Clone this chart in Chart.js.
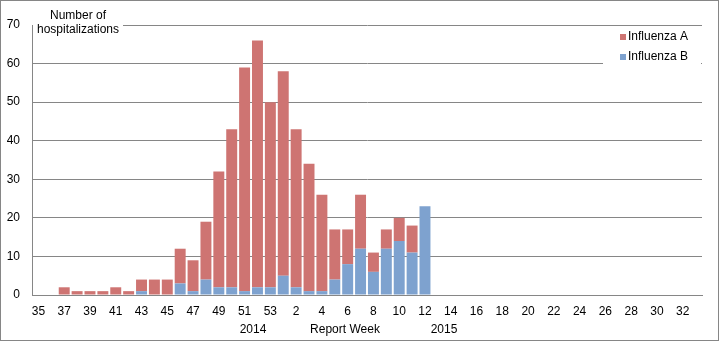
<!DOCTYPE html>
<html lang="en">
  <head>
    <meta charset="UTF-8" />
    <title>Influenza hospitalizations by report week</title>
    <script src="https://cdn.jsdelivr.net/npm/chart.js"></script>
    <style>
      body {
        margin: 0;
        background: #fff;
      }
    </style>
  </head>
  <body>
    <canvas id="fluChart" width="719" height="341"></canvas>

    <script>
      // report weeks 35-53 of 2014 and 1-33 of 2015
      const weeks = [
        35, 36, 37, 38, 39, 40, 41, 42, 43, 44, 45, 46, 47, 48, 49, 50, 51, 52, 53,
        1, 2, 3, 4, 5, 6, 7, 8, 9, 10, 11, 12, 13, 14, 15, 16, 17, 18, 19, 20, 21,
        22, 23, 24, 25, 26, 27, 28, 29, 30, 31, 32, 33,
      ];

      const influenzaA = [
        0, 0, 2, 1, 1, 1, 2, 1, 3, 4, 4, 9, 8, 15, 30, 41, 58, 64, 48,
        53, 41, 33, 25, 13, 9, 14, 5, 5, 6, 7, 0, 0, 0, 0, 0, 0, 0, 0, 0, 0,
        0, 0, 0, 0, 0, 0, 0, 0, 0, 0, 0, 0,
      ];

      const influenzaB = [
        0, 0, 0, 0, 0, 0, 0, 0, 1, 0, 0, 3, 1, 4, 2, 2, 1, 2, 2,
        5, 2, 1, 1, 4, 8, 12, 6, 12, 14, 11, 23, 0, 0, 0, 0, 0, 0, 0, 0, 0,
        0, 0, 0, 0, 0, 0, 0, 0, 0, 0, 0, 0,
      ];

      const yTicks = [0, 10, 20, 30, 40, 50, 60, 70];

      const gridColor = "#868686";
      const fontFamily = "'Liberation Sans', Arial, sans-serif";

      // title, legend, year captions and frame drawn on top of the chart
      const decorations = {
        id: "decorations",
        afterDraw(chart) {
          const c = chart.ctx;
          c.save();
          c.font = "12px " + fontFamily;
          c.textBaseline = "middle";

          // y axis title box
          c.fillStyle = "#fff";
          c.fillRect(33, 20, 90, 19);
          c.fillStyle = "#000";
          c.textAlign = "center";
          c.fillText("Number of", 78, 16);
          c.fillText("hospitalizations", 78, 30);

          // legend, A listed above B
          c.fillStyle = "#fff";
          c.fillRect(603, 28, 98, 42);
          c.textAlign = "left";
          chart.data.datasets
            .slice()
            .reverse()
            .forEach((ds, i) => {
              const y = 37 + i * 20;
              c.fillStyle = ds.backgroundColor;
              c.fillRect(620, y - 3, 6, 6);
              c.fillStyle = "#000";
              c.fillText(ds.label, 628, y);
            });

          // year and axis captions
          c.textAlign = "center";
          c.fillText("2014", 253, 330);
          c.fillText("Report Week", 345, 330);
          c.fillText("2015", 444, 330);

          // outer frame
          c.strokeStyle = gridColor;
          c.lineWidth = 1;
          c.strokeRect(0.5, 0.5, chart.width - 1, chart.height - 1);
          c.restore();
        },
      };

      new Chart(document.getElementById("fluChart"), {
        type: "bar",
        data: {
          labels: weeks.map(String),
          datasets: [
            {
              label: "Influenza B",
              data: influenzaB,
              backgroundColor: "#7EA2CF",
            },
            {
              label: "Influenza A",
              data: influenzaA,
              backgroundColor: "#CE7472",
            },
          ],
        },
        options: {
          responsive: false,
          animation: false,
          layout: { padding: { top: 25, right: 17, left: 0, bottom: 0 } },
          datasets: {
            bar: { categoryPercentage: 1, barPercentage: 0.85 },
          },
          plugins: {
            legend: { display: false },
            tooltip: { enabled: false },
          },
          scales: {
            x: {
              stacked: true,
              afterFit(scale) {
                scale.height = 46;
              },
              grid: { display: false, drawTicks: false },
              border: { color: gridColor },
              ticks: {
                autoSkip: false,
                maxRotation: 0,
                padding: 9,
                color: "#000",
                font: { family: fontFamily, size: 12 },
                callback: (v, i) => (i % 2 === 0 ? weeks[i] : ""),
              },
            },
            y: {
              stacked: true,
              min: 0,
              max: 70,
              afterFit(scale) {
                scale.width = 32;
              },
              afterBuildTicks(scale) {
                scale.ticks = yTicks.map((v) => ({ value: v }));
              },
              grid: { color: gridColor, drawTicks: false },
              border: { color: gridColor },
              ticks: {
                padding: 12,
                color: "#000",
                font: { family: fontFamily, size: 12 },
              },
            },
          },
        },
        plugins: [decorations],
      });
    </script>
  </body>
</html>
